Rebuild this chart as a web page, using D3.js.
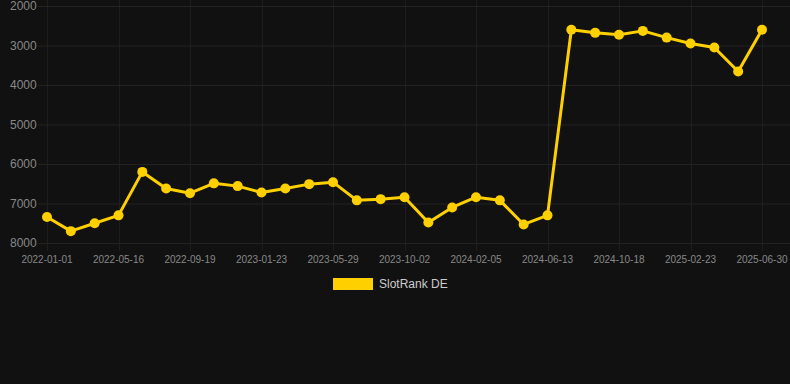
<!DOCTYPE html>
<html>
<head>
<meta charset="utf-8">
<script src="https://cdn.jsdelivr.net/npm/d3@7"></script>
<style>
  html, body { margin: 0; padding: 0; background: #111111; }
  svg { display: block; font-family: "Liberation Sans", Arial, sans-serif; }
</style>
</head>
<body>
<svg id="chart" width="790" height="384"></svg>
<script>
// categories (dates), only every 3rd is shown as a tick
const dates = [
    "2022-01-01", "2022-02-15", "2022-03-31", "2022-05-16", "2022-06-27", "2022-08-08",
    "2022-09-19", "2022-10-31", "2022-12-12", "2023-01-23", "2023-03-06", "2023-04-17",
    "2023-05-29", "2023-07-10", "2023-08-21", "2023-10-02", "2023-11-13", "2023-12-25",
    "2024-02-05", "2024-03-18", "2024-04-29", "2024-06-13", "2024-07-25", "2024-09-05",
    "2024-10-18", "2024-11-29", "2025-01-10", "2025-02-23", "2025-04-06", "2025-05-18",
    "2025-06-30"
]

const rankDE = [
    7340, 7700, 7500, 7300, 6200, 6620, 6740, 6490, 6560, 6720, 6620, 6510,
    6460, 6920, 6890, 6840, 7480, 7100, 6840, 6920, 7530, 7300, 2600, 2680,
    2730, 2630, 2800, 2950, 3050, 3660, 2600
]

const yTicks = [2000, 3000, 4000, 5000, 6000, 7000, 8000]
const seriesName = "SlotRank DE"

const lineColor = "#FFD000"
const gridColor = "#222222"
const vGridColor = "#1d1d1d"
const textColor = "#888888"

const plotLeft = 38, plotRight = 790, plotTop = 6, plotBottom = 243

const x = d3.scalePoint()
    .domain(dates)
    .range([47, 762])

// rank axis is reversed: smaller number on top
const y = d3.scaleLinear()
    .domain([2000, 8000])
    .range([plotTop, plotBottom])

const svg = d3.select('#chart')

const shownDates = dates.filter((d, i) => i % 3 === 0)

// vertical grid + tick marks
svg.append('g')
    .selectAll('line')
    .data(shownDates)
    .enter()
    .append('line')
    .attr('x1', d => Math.round(x(d)) + 0.5)
    .attr('x2', d => Math.round(x(d)) + 0.5)
    .attr('y1', 0)
    .attr('y2', plotBottom + 8)
    .attr('stroke', vGridColor)
    .attr('stroke-width', 1)

// horizontal grid
svg.append('g')
    .selectAll('line')
    .data(yTicks)
    .enter()
    .append('line')
    .attr('x1', plotLeft)
    .attr('x2', plotRight)
    .attr('y1', d => y(d) + 0.5)
    .attr('y2', d => y(d) + 0.5)
    .attr('stroke', gridColor)
    .attr('stroke-width', 1)

// y labels
svg.append('g')
    .selectAll('text')
    .data(yTicks)
    .enter()
    .append('text')
    .attr('x', 10)
    .attr('y', d => y(d))
    .attr('dy', '0.35em')
    .attr('fill', textColor)
    .style('font-size', '12px')
    .text(d => d)

// x labels
svg.append('g')
    .selectAll('text')
    .data(shownDates)
    .enter()
    .append('text')
    .attr('x', d => x(d))
    .attr('y', 263)
    .attr('text-anchor', 'middle')
    .attr('fill', textColor)
    .style('font-size', '10px')
    .text(d => d)

const line = d3.line()
    .x((d, i) => x(dates[i]))
    .y(d => y(d))

svg.append('path')
    .datum(rankDE)
    .attr('d', line)
    .attr('fill', 'none')
    .attr('stroke', lineColor)
    .attr('stroke-width', 3)
    .attr('stroke-linejoin', 'round')

svg.append('g')
    .selectAll('circle')
    .data(rankDE)
    .enter()
    .append('circle')
    .attr('cx', (d, i) => x(dates[i]))
    .attr('cy', d => y(d))
    .attr('r', 5)
    .attr('fill', lineColor)

// legend
const legend = svg.append('g')
legend.append('rect')
    .attr('x', 333)
    .attr('y', 278)
    .attr('width', 40)
    .attr('height', 12)
    .attr('fill', lineColor)
legend.append('text')
    .attr('x', 379)
    .attr('y', 284)
    .attr('dy', '0.35em')
    .attr('fill', '#cccccc')
    .style('font-size', '12px')
    .text(seriesName)
</script>
</body>
</html>
